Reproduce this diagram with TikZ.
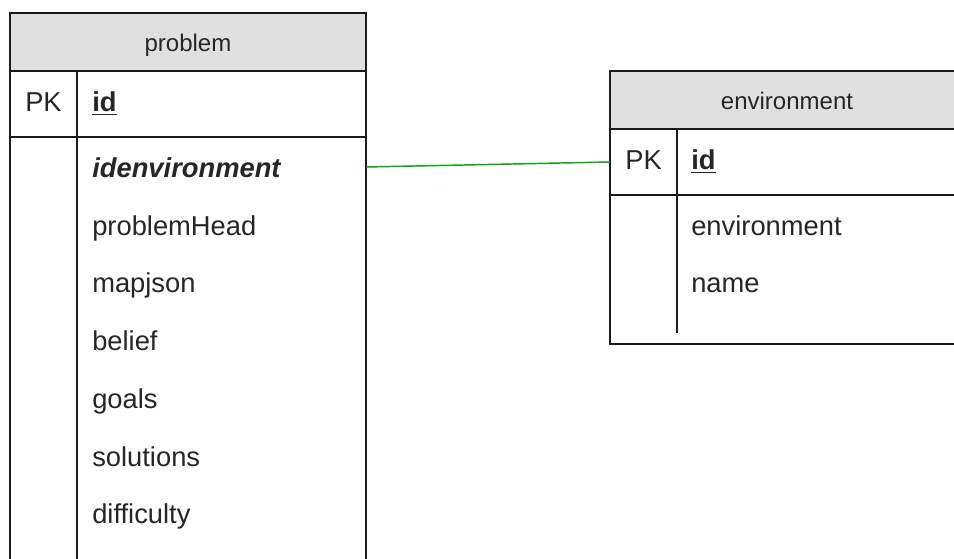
\documentclass[tikz,border=0pt]{standalone}
\usepackage{fontspec}
\setmainfont{Liberation Sans}
\definecolor{hdrgray}{HTML}{E0E0E0}
\definecolor{linkgreen}{RGB}{20,160,20}
\definecolor{edge}{HTML}{1A1A1A}
\begin{document}
\begin{tikzpicture}[x=0.75pt,y=-0.75pt,
  tablebox/.style={draw=edge,line width=1.6pt,inner sep=0pt,outer sep=0pt},
  hdrbox/.style={tablebox,fill=hdrgray},
  divider/.style={draw=edge,line width=1.4pt},
  hdrtext/.style={font=\fontsize{18}{20}\selectfont,anchor=base,inner sep=0pt,text=black!85},
  celltext/.style={font=\fontsize{20.5}{24}\selectfont,anchor=base west,inner sep=0pt,text=black!85},
  link/.style={draw=linkgreen,line width=1.1pt}]
\useasboundingbox (0,0) rectangle (954,559);
\clip (0,0) rectangle (954,559);
% ---------- problem table ----------
\node[tablebox,minimum width=356*0.75pt,minimum height=600*0.75pt,anchor=north west] (pbody) at (10,13) {};
\node[hdrbox,minimum width=356*0.75pt,minimum height=58*0.75pt,anchor=north west] (phdr) at (10,13) {};
\node[tablebox,minimum width=356*0.75pt,minimum height=66*0.75pt,anchor=north west] (ppk) at (10,71) {};
\draw[divider] (77,71) -- (77,600);
\node[hdrtext] (pname) at (188,52) {problem};
\node[celltext] (ppklbl) at (25,112) {PK};
\node[celltext] (pid) at (92,112) {\textbf{\underline{id}}};
\node[celltext] (pidenv) at (92,178) {\textbf{\textit{idenvironment}}};
\node[celltext] (phead) at (92,236) {problemHead};
\node[celltext] (pmap) at (92,293) {mapjson};
\node[celltext] (pbelief) at (92,351) {belief};
\node[celltext] (pgoals) at (92,409) {goals};
\node[celltext] (psol) at (92,467) {solutions};
\node[celltext] (pdiff) at (92,524) {difficulty};
% ---------- environment table ----------
\node[tablebox,minimum width=360*0.75pt,minimum height=273*0.75pt,anchor=north west] (ebody) at (610,71) {};
\node[hdrbox,minimum width=360*0.75pt,minimum height=58*0.75pt,anchor=north west] (ehdr) at (610,71) {};
\node[tablebox,minimum width=360*0.75pt,minimum height=66*0.75pt,anchor=north west] (epk) at (610,129) {};
\draw[divider] (677,129) -- (677,333);
\node[hdrtext] (ename) at (787,110) {environment};
\node[celltext] (epklbl) at (625,170) {PK};
\node[celltext] (eid) at (691,170) {\textbf{\underline{id}}};
\node[celltext] (eenv) at (691,236) {environment};
\node[celltext] (ename2) at (691,293) {name};
% ---------- connector ----------
\coordinate (c1) at (pbody.north east |- 0,167);
\coordinate (c2) at (ebody.north west |- 0,162);
\draw[link] (c1) -- (c2);
\end{tikzpicture}
\end{document}
